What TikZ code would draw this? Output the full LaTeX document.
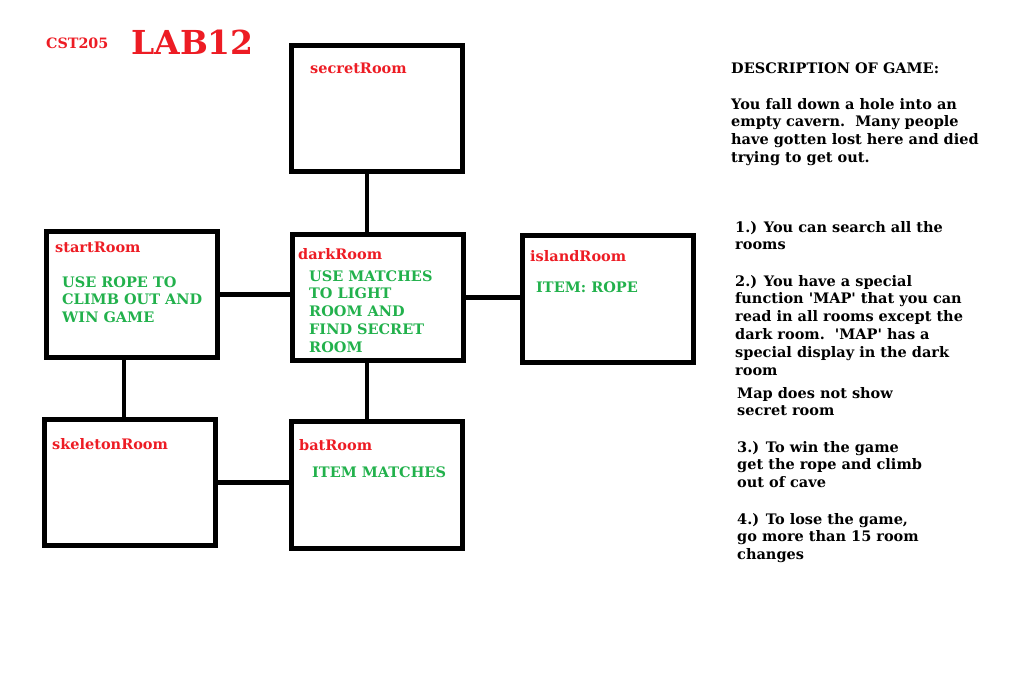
\documentclass[tikz,border=0pt]{standalone}
\usepackage{fontspec}
\setmainfont{DejaVu Serif}
\definecolor{pred}{HTML}{ED1C24}
\definecolor{pgreen}{HTML}{22B14C}
\newcommand{\mylines}[1]{\begin{tabular}[t]{@{}l@{}}#1\end{tabular}}
\newcommand{\sq}{\textquotesingle}
\begin{document}
\begin{tikzpicture}[x=1pt,y=-1pt,
  room/.style={draw=black,line width=5pt,minimum width=171pt,minimum height=126.5pt,inner sep=0pt,fill=none},
  conn/.style={draw=black,line width=4.5pt},
  txt/.style={inner sep=0pt,anchor=base west,font=\fontsize{14.5}{17.8}\selectfont\bfseries},
  lbl/.style={txt,text=pred},
  grn/.style={txt,text=pgreen},
  desc/.style={txt,text=black}]
\useasboundingbox (0,0) rectangle (1021,691);
% rooms
\node[room] (secret) at (377,108.5) {};
\node[room] (start) at (131.5,294.5) {};
\node[room] (dark) at (377.75,297.5) {};
\node[room] (island) at (607.5,299) {};
\node[room] (skeleton) at (130,482.5) {};
\node[room] (bat) at (377,485) {};
% connectors
\draw[conn] ([xshift=-10pt]secret.south) -- ([xshift=-10pt]secret.south |- dark.north);
\draw[conn] ([xshift=-10.75pt]dark.south) -- ([xshift=-10.75pt]dark.south |- bat.north);
\draw[conn] (start.east) -- (start.east -| dark.west);
\draw[conn] (dark.east) -- (dark.east -| island.west);
\draw[conn] ([xshift=-7.5pt]start.south) -- ([xshift=-7.5pt]start.south |- skeleton.north);
\draw[conn] (skeleton.east) -- (skeleton.east -| bat.west);
% title
\node[lbl,font=\fontsize{14.3}{16}\selectfont\bfseries] (cst) at (46,48.5) {CST205};
\node[lbl,font=\fontsize{33}{40}\selectfont\bfseries] (lab) at (131,54) {LAB12};
% room labels
\node[lbl] (secretlbl) at (310,73) {secretRoom};
\node[lbl] (startlbl) at (55,252) {startRoom};
\node[lbl] (darklbl) at (298,259) {darkRoom};
\node[lbl] (islandlbl) at (530,261) {islandRoom};
\node[lbl] (skeletonlbl) at (52,449) {skeletonRoom};
\node[lbl] (batlbl) at (299,450) {batRoom};
% green texts
\node[grn] (starttxt) at (62,287) {\mylines{USE ROPE TO\\CLIMB OUT AND\\WIN GAME}};
\node[grn] (darktxt) at (309,281) {\mylines{USE MATCHES\\TO LIGHT\\ROOM AND\\FIND SECRET\\ROOM}};
\node[grn] (islandtxt) at (536,292) {ITEM: ROPE};
\node[grn] (battxt) at (312,477) {ITEM MATCHES};
% description
\node[desc] (dhead) at (731,73) {DESCRIPTION OF GAME:};
\node[desc] (dintro) at (731,109) {\mylines{You fall down a hole into an\\empty cavern.\ \ Many people\\have gotten lost here and died\\trying to get out.}};
\node[desc] (d1) at (735,232) {\mylines{1.) You can search all the\\rooms}};
\node[desc] (d2) at (735,286) {\mylines{2.) You have a special\\function \sq MAP\sq\ that you can\\read in all rooms except the\\dark room.\ \ \sq MAP\sq\ has a\\special display in the dark\\room}};
\node[desc] (dmap) at (737,398) {\mylines{Map does not show\\secret room}};
\node[desc] (d3) at (737,452) {\mylines{3.) To win the game\\get the rope and climb\\out of cave}};
\node[desc] (d4) at (737,524) {\mylines{4.) To lose the game,\\go more than 15 room\\changes}};
\end{tikzpicture}
\end{document}
